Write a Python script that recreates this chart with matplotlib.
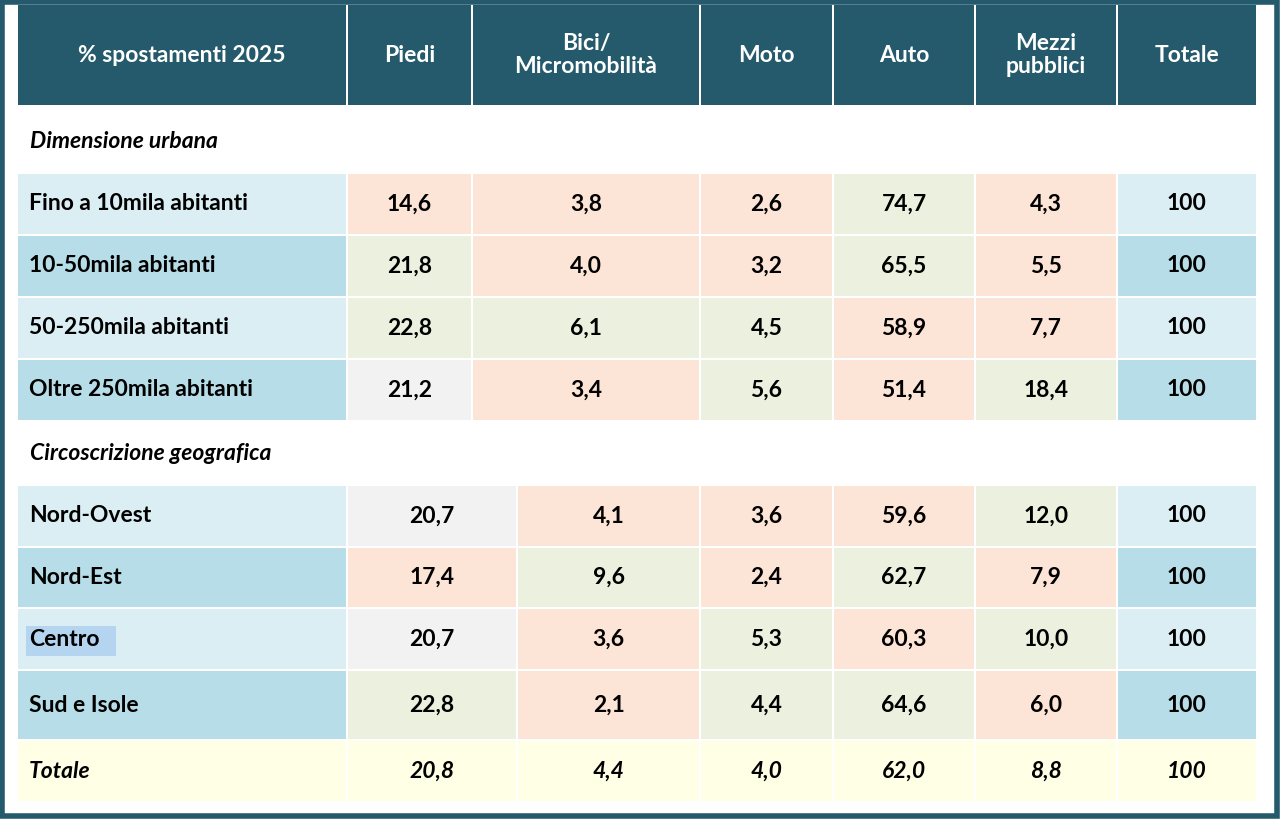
import matplotlib
matplotlib.use("Agg")
import matplotlib.pyplot as plt
from matplotlib.patches import Rectangle

headers = ["% spostamenti 2025", "Piedi", "Bici/\nMicromobilità", "Moto", "Auto", "Mezzi\npubblici", "Totale"]
section1 = "Dimensione urbana"
section2 = "Circoscrizione geografica"
labels1 = ["Fino a 10mila abitanti", "10-50mila abitanti", "50-250mila abitanti", "Oltre 250mila abitanti"]
labels2 = ["Nord-Ovest", "Nord-Est", "Centro", "Sud e Isole"]
piedi = [14.6, 21.8, 22.8, 21.2, 20.7, 17.4, 20.7, 22.8]
bici = [3.8, 4.0, 6.1, 3.4, 4.1, 9.6, 3.6, 2.1]
moto = [2.6, 3.2, 4.5, 5.6, 3.6, 2.4, 5.3, 4.4]
auto = [74.7, 65.5, 58.9, 51.4, 59.6, 62.7, 60.3, 64.6]
mezzi = [4.3, 5.5, 7.7, 18.4, 12.0, 7.9, 10.0, 6.0]
totale = [100] * 8
tot_label = "Totale"
tot_vals = [20.8, 4.4, 4.0, 62.0, 8.8, 100]
# cell colour codes: p=peach, g=green, x=gray
codes = ["pppgp", "gppgp", "gggpp", "xpgpg", "xpppg", "pgpgp", "xpgpg", "gpggp"]

C = {"p": "#FCE4D6", "g": "#EBF1DE", "x": "#F2F2F2"}
LB, DB = "#DAEEF3", "#B7DEE8"
HEAD = "#245A6B"
YEL = "#FFFFE6"

fig = plt.figure(figsize=(12.8, 8.19), dpi=100)
ax = fig.add_axes([0, 0, 1, 1])
ax.set_xlim(0, 1280); ax.set_ylim(819, 0); ax.axis("off")
font = "Lato"
FS = 16.5

def cell(x0, x1, y0, y1, fc, txt=None, ha="center", tc="black", style="normal", pad=12):
    ax.add_patch(Rectangle((x0 + 1, y0 + 1), x1 - x0 - 2, y1 - y0 - 2, fc=fc, ec="none", zorder=1))
    if txt is not None:
        tx = (x0 + x1) / 2 if ha == "center" else x0 + pad
        ax.text(tx, (y0 + y1) / 2, txt, ha=ha, va="center", fontsize=FS, fontweight="bold",
                color=tc, family=font, style=style, linespacing=1.1, zorder=3)

ax.add_patch(Rectangle((2, 2), 1275, 814, fc="white", ec=HEAD, lw=4, zorder=0))

colsA = [17, 347, 472, 700, 833, 975, 1117, 1257]
colsB = [17, 347, 517, 700, 833, 975, 1117, 1257]

for i, h in enumerate(headers):
    cell(colsA[i], colsA[i + 1], 4, 106, HEAD, h, tc="white")

def fmt(v):
    return f"{v:.1f}".replace(".", ",")

ax.text(30, 142, section1, ha="left", va="center", fontsize=FS, fontweight="bold", style="italic", family=font)
ax.text(30, 453, section2, ha="left", va="center", fontsize=FS, fontweight="bold", style="italic", family=font)

rows1 = [(173, 235), (235, 297), (297, 359), (359, 421)]
rows2 = [(485, 547), (547, 608), (608, 670), (670, 740)]
allrows = [(labels1[i], rows1[i], colsA, i) for i in range(4)] + [(labels2[i], rows2[i], colsB, i + 4) for i in range(4)]
for lab, (y0, y1), cols, k in allrows:
    bg = LB if (k % 4) % 2 == 0 else DB
    cell(cols[0], cols[1], y0, y1, bg, lab, ha="left")
    vals = [piedi[k], bici[k], moto[k], auto[k], mezzi[k]]
    for j, v in enumerate(vals):
        cell(cols[j + 1], cols[j + 2], y0, y1, C[codes[k][j]], fmt(v))
    cell(cols[6], cols[7], y0, y1, bg, str(totale[k]))
    if lab == "Centro":
        ax.add_patch(Rectangle((26, 626), 90, 30, fc="#B4D4F0", ec="none", zorder=2))

y0, y1 = 740, 802
cell(colsB[0], colsB[1], y0, y1, YEL, tot_label, ha="left", style="italic")
for j, v in enumerate(tot_vals):
    cell(colsB[j + 1], colsB[j + 2], y0, y1, YEL, fmt(v) if j < 5 else str(v), style="italic")

fig.savefig("out.png", dpi=100)
